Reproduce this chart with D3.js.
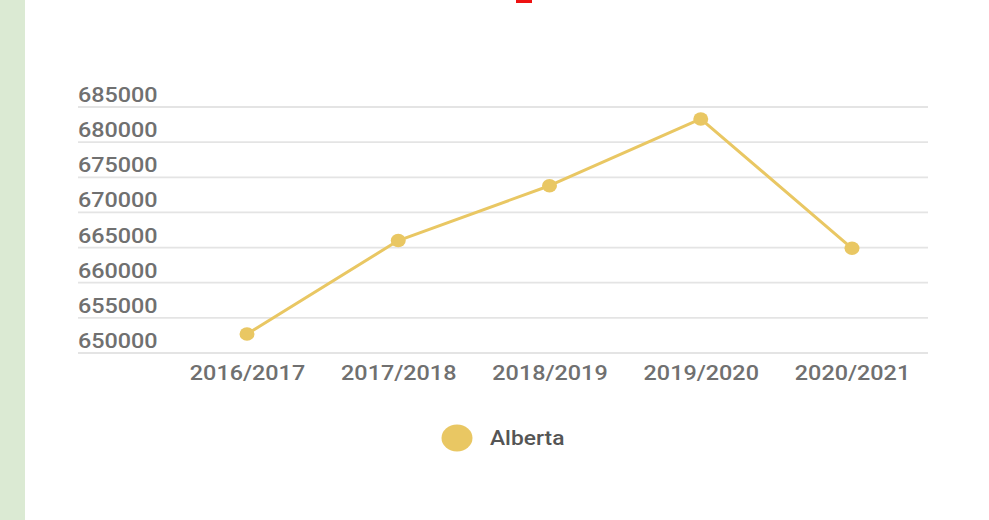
<!DOCTYPE html>
<html>
<head>
<meta charset="utf-8">
<script src="https://cdn.jsdelivr.net/npm/d3@7"></script>
<style>
  html, body { margin: 0; padding: 0; background: #fff; }
  svg { display: block; }
  text { font-family: Roboto, "Noto Sans", sans-serif; }
</style>
</head>
<body>
<svg id="chart" width="989" height="520"></svg>
<script>
// Alberta enrolment by school year
const years = ["2016/2017", "2017/2018", "2018/2019", "2019/2020", "2020/2021"];
const alberta = [652700, 666000, 673800, 683300, 664900];
const yTicks = [650000, 655000, 660000, 665000, 670000, 675000, 680000, 685000];
const seriesName = "Alberta";

const W = 989, H = 520;
const svg = d3.select("#chart");
const gold = "#e9c763";
const stretch = 1.14; // labels are drawn slightly wide

// page decoration: side band and top marker
svg.append("rect").attr("x", 0).attr("y", 0).attr("width", 25).attr("height", H).attr("fill", "#dbead3");
svg.append("rect").attr("x", 516).attr("y", 0).attr("width", 16).attr("height", 3).attr("fill", "#ee1111");

const x = d3.scalePoint().domain(years).range([247, 852]);
const y = d3.scaleLinear().domain([650000, 685000]).range([353, 107]);

const gridLeft = 78, gridRight = 928;

// horizontal grid lines with their labels sitting above the line
const grid = svg.append("g");
grid.selectAll("line").data(yTicks).join("line")
  .attr("x1", gridLeft).attr("x2", gridRight)
  .attr("y1", d => y(d)).attr("y2", d => y(d))
  .attr("stroke", "#e4e4e4").attr("stroke-width", 1.8);

grid.selectAll("text").data(yTicks).join("text")
  .attr("transform", d => `translate(${gridLeft},${y(d) - 5}) scale(${stretch},1)`)
  .attr("font-size", 20.5).attr("font-weight", 500)
  .attr("fill", "#707070")
  .text(d => d3.format("d")(d));

// category axis
const xAxis = svg.append("g")
  .attr("transform", `translate(0,${y(650000)})`)
  .call(d3.axisBottom(x).tickSize(0).tickPadding(12));
xAxis.select(".domain").remove();
xAxis.selectAll("text")
  .attr("font-size", 20.5).attr("font-weight", 500)
  .attr("fill", "#707070")
  .attr("font-family", "Roboto, 'Noto Sans', sans-serif")
  .attr("transform", `scale(${stretch},1)`);

// series line
const line = d3.line().x((d, i) => x(years[i])).y(d => y(d));
svg.append("path").datum(alberta)
  .attr("d", line)
  .attr("fill", "none")
  .attr("stroke", gold)
  .attr("stroke-width", 3)
  .attr("stroke-linejoin", "round");

svg.append("g").selectAll("ellipse").data(alberta).join("ellipse")
  .attr("cx", (d, i) => x(years[i]))
  .attr("cy", d => y(d))
  .attr("rx", 7.5).attr("ry", 6.8)
  .attr("fill", gold);

// legend
const legend = svg.append("g").attr("transform", "translate(457,438)");
legend.append("ellipse").attr("rx", 15.5).attr("ry", 13.5).attr("fill", gold);
legend.append("text")
  .attr("transform", `translate(33,0) scale(${stretch},1)`)
  .attr("dy", "0.35em")
  .attr("font-size", 20).attr("font-weight", 500)
  .attr("fill", "#555555")
  .text(seriesName);
</script>
</body>
</html>
